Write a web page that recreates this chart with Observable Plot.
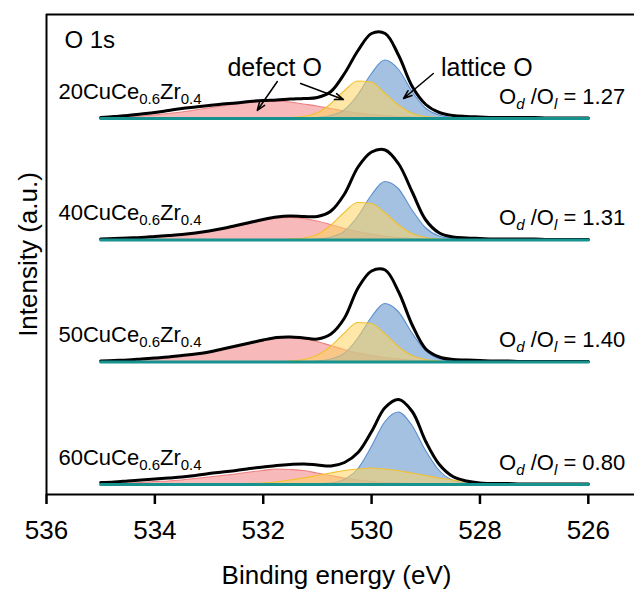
<!DOCTYPE html>
<html>
<head>
<meta charset="utf-8">
<script src="https://cdn.jsdelivr.net/npm/d3@7"></script>
<script src="https://cdn.jsdelivr.net/npm/@observablehq/plot@0.6"></script>
<style>
  html, body { margin: 0; padding: 0; background: white; overflow: hidden; }
  #chart { width: 634px; height: 589px; overflow: hidden; }
  #chart svg { max-width: none !important; }
</style>
</head>
<body>
<div id="chart"></div>
<script>
// Binding energy grid (eV)
const energy = [535,534.75,534.5,534.25,534,533.75,533.5,533.25,533,532.75,532.5,532.25,532,531.75,531.5,531.25,531,530.75,530.5,530.25,530,529.75,529.5,529.25,529,528.75,528.5,528.25,528,527.75,527.5,527.25,527,526.75,526.5,526.25,526];

const sampleIds = ["20", "40", "50", "60"];
const sampleNames = ["20CuCe_{0.6}Zr_{0.4}", "40CuCe_{0.6}Zr_{0.4}", "50CuCe_{0.6}Zr_{0.4}", "60CuCe_{0.6}Zr_{0.4}"];
const ratios = [1.27, 1.31, 1.40, 0.80];
const offsets = [376, 254.5, 132.5, 10];

const xTicks = [536, 534, 532, 530, 528, 526];
const xDomain = [536, 525];
const yDomain = [0, 480];

// 20CuCe0.6Zr0.4
const red20    = [0.5,1,1.5,2,3,4.5,6,8,10,12,14,15.5,17,17,16,14,12,9.5,7,5,3.5,2.5,1.5,1,0.5,0,0,0,0,0,0,0,0,0,0,0,0];
const yellow20 = [0,0,0,0,0,0,0,0,0,0,0,0,0,0,0.5,1.5,5,14,27,37,36,25,13,5,1.5,0.5,0,0,0,0,0,0,0,0,0,0,0];
const blue20   = [0,0,0,0,0,0,0,0,0,0,0,0,0,0,0,0,0.5,2.5,8,23,44,58,49,27,10,3,0.5,0,0,0,0,0,0,0,0,0,0];
const black20  = [1,2,3,4.5,6,8,10,11.5,13,14.5,15.5,17,18,18.5,19.5,20,21,27,45,68,85,85,63,32,14,6,3,2,1.5,1,1,1,1,0.5,0.5,0.5,0.5];
// 40CuCe0.6Zr0.4
const red40    = [0.5,1,1.5,2,3,4,5,6.5,8.5,10.5,13,16,19,21.5,22,21,18.5,15,11,8,5.5,3.5,2,1,0.5,0,0,0,0,0,0,0,0,0,0,0,0];
const yellow40 = [0,0,0,0,0,0,0,0,0,0,0,0,0,0,0.5,1.5,5,14,27,37,36,27,15,6,2,0.5,0,0,0,0,0,0,0,0,0,0,0];
const blue40   = [0,0,0,0,0,0,0,0,0,0,0,0,0,0,0,0,0.5,2.5,8,23,44,58,51,30,12,3.5,1,0,0,0,0,0,0,0,0,0,0];
const black40  = [1,1.5,2,2.5,3.5,4.5,5.5,7,9,11.5,14.5,17.5,20.5,23,24,23.5,23.5,29,46,73,88,90,76,48,20,7,3,2,1.5,1,1,1,1,0.5,0.5,0.5,0.5];
// 50CuCe0.6Zr0.4
const red50    = [0.5,1,1.5,2.5,3.5,4.5,6,7.5,9.5,12,15,18,21,23.5,24,23,20,16,12,8.5,6,4,2.5,1.5,0.5,0,0,0,0,0,0,0,0,0,0,0,0];
const yellow50 = [0,0,0,0,0,0,0,0,0,0,0,0,0,0,0.5,2,6,15,28,39,38,28,15,6,2,0.5,0,0,0,0,0,0,0,0,0,0,0];
const blue50   = [0,0,0,0,0,0,0,0,0,0,0,0,0,0,0,0,0.5,2.5,8,23,44,58,50,29,11,3,0.5,0,0,0,0,0,0,0,0,0,0];
const black50  = [1,1.5,2,3,4,5,6.5,8,10,13,16,19,22,24.5,25,24,23,28,44,74,91,92,70,37,13,5,2.5,2,1.5,1,1,0.5,0.5,0.5,0.5,0.5,0.5];
// 60CuCe0.6Zr0.4
const red60    = [0.5,0.8,1,1.5,2.5,3,4,5.5,7,8.5,10,12,13.5,15,14.5,13.5,11,8.5,6,4,2.5,1.5,1,0.5,0,0,0,0,0,0,0,0,0,0,0,0,0];
const yellow60 = [0,0,0,0,0,0,0,0,0,0,0,0.5,1,2,4,6,8.5,11,13.5,15,16,15,13.5,11,8.5,6,4,2.5,1.5,1,0.5,0.3,0,0,0,0,0];
const blue60   = [0,0,0,0,0,0,0,0,0,0,0,0,0,0,0,0,0.3,1,4.5,15,37,62,72,59,34,14,4,1,0.3,0,0,0,0,0,0,0,0];
const black60  = [2,2.5,3.5,4.5,5.5,6.5,7.5,9,11,12.5,14,16,17.5,19,20,20.5,19.5,18.5,22,32,53,77,85,73,43,20,8,3.5,1.5,1,1,0.5,0.5,0.5,0.5,0.5,0.5];

// Annotations (data coordinates)
const peakLabels = [
  {text: "defect O", x: 532.66, y: 427},
  {text: "lattice O", x: 528.72, y: 427}
];
const arrows = [
  {x1: 531.74, y1: 413, x2: 532.11, y2: 384},
  {x1: 531.31, y1: 411, x2: 530.52, y2: 395},
  {x1: 528.86, y1: 421, x2: 529.41, y2: 396}
];

const series = {
  "20": {red: red20, yellow: yellow20, blue: blue20, black: black20},
  "40": {red: red40, yellow: yellow40, blue: blue40, black: black40},
  "50": {red: red50, yellow: yellow50, blue: blue50, black: black50},
  "60": {red: red60, yellow: yellow60, blue: blue60, black: black60}
};

const rows = [];
sampleIds.forEach((s, k) => {
  for (const comp of ["red", "yellow", "blue", "black"]) {
    const vals = series[s][comp];
    energy.forEach((E, i) => rows.push({sample: s, comp, E, base: offsets[k], top: offsets[k] + vals[i]}));
  }
});
const baseRows = sampleIds.flatMap((s, k) =>
  [energy[0], energy[energy.length - 1]].map(E => ({sample: s, E, y: offsets[k]})));
const labelRows = sampleIds.map((s, k) => ({x: 535.78, y: offsets[k] + 27, text: sampleNames[k]}));
const ratioRows = sampleIds.map((s, k) => ({x: 525.32, y: offsets[k] + 22, text: `O_{*d} /O_{*l} = ${ratios[k].toFixed(2)}`}));

const area = (comp, fill, op, stroke) => Plot.areaY(rows.filter(d => d.comp === comp), {
  x: "E", y1: "base", y2: "top", z: "sample", fill, fillOpacity: op,
  stroke, strokeWidth: 1.1, curve: "monotone-x"
});

const chart = Plot.plot({
  width: 642,
  height: 589,
  marginTop: 14,
  marginLeft: 46,
  marginRight: 0,
  marginBottom: 95,
  x: {domain: xDomain},
  y: {domain: yDomain, axis: null},
  style: {fontFamily: "'Liberation Sans', Arial, sans-serif", fontSize: "26px", color: "black", background: "white", maxWidth: "none"},
  marks: [
    area("red", "#f28b8b", 0.6, "#ef7f7f"),
    area("blue", "#7ea6d6", 0.7, "#5b8fcf"),
    area("yellow", "#ffd45e", 0.55, "#f2c12e"),
    Plot.lineY(rows.filter(d => d.comp === "black"), {x: "E", y: "top", z: "sample", stroke: "black", strokeWidth: 3, curve: "catmull-rom"}),
    Plot.lineY(baseRows, {x: "E", y: "y", z: "sample", stroke: "#16928f", strokeWidth: 3}),
    Plot.ruleX([xDomain[0]], {stroke: "black", strokeWidth: 2}),
    Plot.ruleY(yDomain, {stroke: "black", strokeWidth: 2}),
    Plot.axisX({ticks: xTicks, tickSize: 10, tickPadding: 16, strokeWidth: 2.5, fontSize: 26, label: null, tickFormat: d => String(d)}),
    Plot.text(["Binding energy (eV)"], {frameAnchor: "bottom", lineAnchor: "middle", dy: 81, dx: -8, fontSize: 26, text: d => d}),
    Plot.text(["Intensity (a.u.)"], {frameAnchor: "left", textAnchor: "middle", lineAnchor: "middle", dx: -18, rotate: -90, fontSize: 26, text: d => d}),
    Plot.text(["O 1s"], {x: 535.67, y: 454, text: d => d, textAnchor: "start", fontSize: 24}),
    Plot.text(peakLabels, {x: "x", y: "y", text: "text", textAnchor: "start", fontSize: 25}),
    Plot.arrow(arrows, {x1: "x1", y1: "y1", x2: "x2", y2: "y2", stroke: "black", strokeWidth: 1.5, headLength: 9, headAngle: 40}),
    Plot.text(labelRows, {x: "x", y: "y", text: "text", textAnchor: "start", fontSize: 22}),
    Plot.text(ratioRows, {x: "x", y: "y", text: "text", textAnchor: "end", fontSize: 22})
  ]
});
chart.style.maxWidth = "none";

// Render "_{...}" parts as subscripts ("*" marks italic)
d3.select(chart).selectAll("text").each(function() {
  const t = this.textContent;
  if (!t.includes("_{")) return;
  const parts = t.split(/(_\{[^}]*\})/).filter(p => p.length);
  this.textContent = "";
  const sel = d3.select(this);
  let shifted = false;
  for (const p of parts) {
    const m = p.match(/^_\{(\*?)([^}]*)\}$/);
    const ts = sel.append("tspan");
    if (m) {
      ts.attr("font-size", 15).attr("dy", 5).text(m[2]);
      if (m[1]) ts.attr("font-style", "italic");
      shifted = true;
    } else {
      if (shifted) ts.attr("dy", -5);
      shifted = false;
      ts.text(p);
    }
  }
});

document.getElementById("chart").appendChild(chart);
</script>
</body>
</html>
